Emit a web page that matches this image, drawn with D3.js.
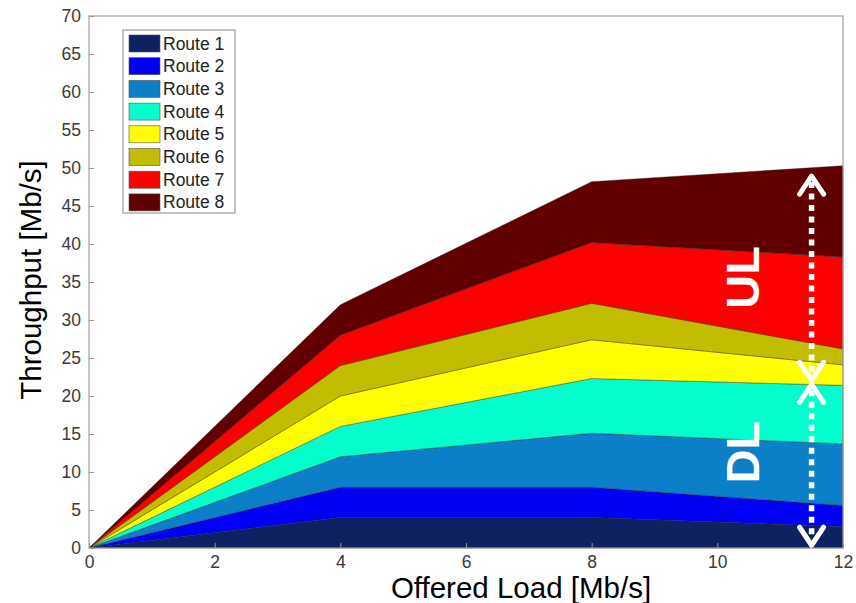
<!DOCTYPE html>
<html lang="en">

<head>
    <meta charset="UTF-8">
    <title>Throughput vs Offered Load</title>

    <script src="https://d3js.org/d3.v7.min.js"></script>

    <style>
        body {
            margin: 0;
            background: #fff;
        }

        .tick text {
            font-family: "Liberation Sans", Arial, sans-serif;
            font-size: 17.5px;
            fill: #3a3a3a;
        }

        .axis-title {
            font-family: "Liberation Sans", Arial, sans-serif;
            font-size: 29.5px;
            fill: #000;
        }

        .legend_text {
            font-family: "Liberation Sans", Arial, sans-serif;
            font-size: 17.5px;
            fill: #222;
        }

        .tag {
            font-family: "Liberation Sans", Arial, sans-serif;
            font-size: 47px;
            font-weight: bold;
            fill: #fff;
        }
    </style>

</head>

<body>
    <svg width="856" height="603"></svg>

    <script>
        // offered load (x) and per-route throughput, stacked
        const loads = [0, 4, 8, 12];
        const routes = ["Route 1", "Route 2", "Route 3", "Route 4", "Route 5", "Route 6", "Route 7", "Route 8"];
        const route1 = [0, 4, 4.0, 2.8];
        const route2 = [0, 4, 4.0, 2.8];
        const route3 = [0, 4, 7.1, 8.1];
        const route4 = [0, 4, 7.2, 7.7];
        const route5 = [0, 4, 5.1, 2.7];
        const route6 = [0, 4, 4.8, 2.1];
        const route7 = [0, 4, 8.0, 12.1];
        const route8 = [0, 4, 8.0, 12.0];
        const colors = ["#0e2161", "#0000f5", "#0b80c8", "#00ffcc", "#ffff00", "#c3bd00", "#ff0000", "#600000"];

        const xTicks = [0, 2, 4, 6, 8, 10, 12];
        const yTicks = d3.range(0, 75, 5);

        // UL / DL annotation (data units)
        const arrowX = 11.5;
        const ulSpan = [21.8, 49.2];
        const dlSpan = [0.1, 21.8];

        const series = [route1, route2, route3, route4, route5, route6, route7, route8];
        const table = loads.map((l, i) => {
            const row = { load: l };
            routes.forEach((r, k) => row[r] = series[k][i]);
            return row;
        });

        const W = 856, H = 603;
        const margin = { top: 16, right: 13, bottom: 55, left: 89 };

        const svg = d3.select("svg");

        const x = d3.scaleLinear().domain([0, 12]).range([margin.left, W - margin.right]);
        const y = d3.scaleLinear().domain([0, 70]).range([H - margin.bottom, margin.top]);

        const stacked = d3.stack().keys(routes)(table);

        const area = d3.area()
            .x(d => x(d.data.load))
            .y0(d => y(d[0]))
            .y1(d => y(d[1]));

        svg.append("g")
            .selectAll("path")
            .data(stacked)
            .enter()
            .append("path")
            .attr("d", area)
            .attr("fill", (d, i) => colors[i])
            .attr("stroke", "#222")
            .attr("stroke-opacity", 0.55)
            .attr("stroke-width", 0.7)
            .attr("stroke-linejoin", "round");

        // frame
        svg.append("rect")
            .attr("x", x(0))
            .attr("y", y(70))
            .attr("width", x(12) - x(0))
            .attr("height", y(0) - y(70))
            .attr("fill", "none")
            .attr("stroke", "#a0a0a0")
            .attr("stroke-width", 1.2);

        const xAxis = svg.append("g")
            .attr("transform", `translate(0,${y(0)})`)
            .call(d3.axisBottom(x).tickValues(xTicks).tickSize(-5).tickPadding(8));
        const yAxis = svg.append("g")
            .attr("transform", `translate(${x(0)},0)`)
            .call(d3.axisLeft(y).tickValues(yTicks).tickSize(-5).tickPadding(8));

        [xAxis, yAxis].forEach(g => {
            g.select(".domain").remove();
            g.selectAll(".tick line").attr("stroke", "#999");
        });

        svg.append("text")
            .attr("class", "axis-title")
            .attr("x", 521)
            .attr("y", 598)
            .attr("text-anchor", "middle")
            .text("Offered Load [Mb/s]");

        svg.append("text")
            .attr("class", "axis-title")
            .attr("transform", "translate(41,280) rotate(-90)")
            .attr("text-anchor", "middle")
            .text("Throughput [Mb/s]");

        // legend
        const legend = svg.append("g").attr("transform", "translate(123,30)");
        legend.append("rect")
            .attr("width", 112)
            .attr("height", 183)
            .attr("fill", "#fff")
            .attr("stroke", "#8a8a8a")
            .attr("stroke-width", 1);

        const items = legend.selectAll("g.item")
            .data(routes)
            .enter()
            .append("g")
            .attr("class", "item")
            .attr("transform", (d, i) => `translate(6,${5 + i * 22.7})`);

        items.append("rect")
            .attr("width", 31)
            .attr("height", 17)
            .attr("fill", (d, i) => colors[i])
            .attr("stroke", "#555")
            .attr("stroke-width", 0.6);

        items.append("text")
            .attr("class", "legend_text")
            .attr("x", 34)
            .attr("y", 14.5)
            .text(d => d);

        // UL / DL arrows
        const ann = svg.append("g");

        function chevron(tipY, dir) {
            const px = x(arrowX);
            return `M${px - 12},${tipY + dir * 20} L${px},${tipY + dir * 2} L${px + 12},${tipY + dir * 20}`;
        }

        [ulSpan, dlSpan].forEach(span => {
            const top = y(span[1]);
            const bot = y(span[0]);
            ann.append("line")
                .attr("x1", x(arrowX))
                .attr("x2", x(arrowX))
                .attr("y1", top + 8)
                .attr("y2", bot - 8)
                .attr("stroke", "#fff")
                .attr("stroke-width", 5.5)
                .attr("stroke-dasharray", "6,5.5");
            ann.append("path")
                .attr("d", chevron(top, 1))
                .attr("fill", "none")
                .attr("stroke", "#fff")
                .attr("stroke-width", 5)
                .attr("stroke-linecap", "round")
                .attr("stroke-linejoin", "round");
            ann.append("path")
                .attr("d", chevron(bot, -1))
                .attr("fill", "none")
                .attr("stroke", "#fff")
                .attr("stroke-width", 5)
                .attr("stroke-linecap", "round")
                .attr("stroke-linejoin", "round");
        });

        svg.append("text")
            .attr("class", "tag")
            .attr("transform", `translate(759,${y(35.6)}) rotate(-90)`)
            .attr("text-anchor", "middle")
            .text("UL");

        svg.append("text")
            .attr("class", "tag")
            .attr("transform", `translate(759,${y(12.6)}) rotate(-90)`)
            .attr("text-anchor", "middle")
            .text("DL");
    </script>
</body>

</html>
